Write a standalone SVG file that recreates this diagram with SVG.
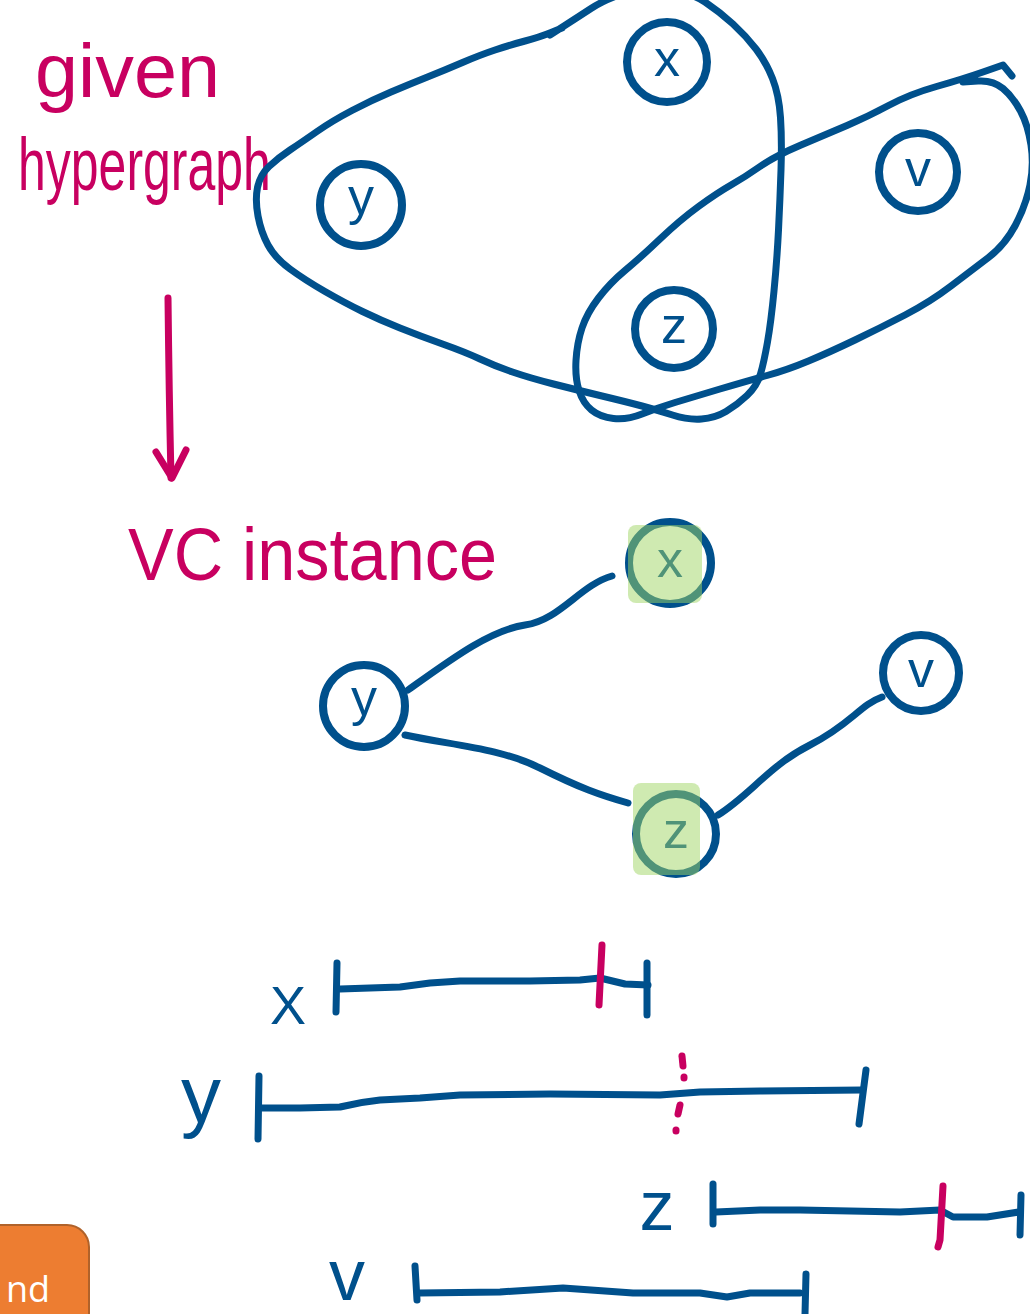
<svg xmlns="http://www.w3.org/2000/svg" width="1030" height="1314" viewBox="0 0 1030 1314">
<style>
.ink{fill:none;stroke:#00508c;stroke-width:7;stroke-linecap:round;stroke-linejoin:round}
.node{fill:#ffffff;stroke:#00508c;stroke-width:8}
.pink{fill:none;stroke:#c80060;stroke-width:7;stroke-linecap:round;stroke-linejoin:round}
.lbl{font-family:"Liberation Sans",Arial,sans-serif;fill:#00508c;text-anchor:middle}
.hand{font-family:"Liberation Sans",Arial,sans-serif;fill:#c80060}
.hl{fill:#a0d563;opacity:0.5}
</style>
<rect width="1030" height="1314" fill="#ffffff"/>

<!-- annotations -->
<text class="hand" x="35" y="97" font-size="76" textLength="185" lengthAdjust="spacingAndGlyphs">given</text>
<text class="hand" transform="translate(18,190) scale(1,1.5)" x="0" y="0" font-size="50">hypergraph</text>
<text class="hand" x="128" y="580" font-size="74" textLength="369" lengthAdjust="spacingAndGlyphs">VC instance</text>

<g id="hyperedges">
<path class="ink" d="M550,35 L564,26 Q578,17 591,8.5 Q604,0 622,-6 Q640,-12 665,-10 Q690,-8 705,2 Q720,12 733,24 Q746,36 756,49 Q766,62 772.5,78.5 Q779,95 780.5,117.5 Q782,140 781,170 Q780,200 778.5,230 Q777,260 774,291 Q771,322 767.5,342 Q764,362 760.5,374 Q757,386 747,395.5 Q737,405 726,411.5 Q715,418 701.5,419 Q688,420 672.5,415 Q657,410 642,406 Q627,402 602,396 Q577,390 553.5,384 Q530,378 512.5,372 Q495,366 480,359 Q465,352 442.5,344 Q420,336 400,328 Q380,320 362.5,311.5 Q345,303 325,291.5 Q305,280 290,269 Q275,258 268,245 Q261,232 258,216 Q255,200 257.5,187.5 Q260,175 269,166.5 Q278,158 290,150 Q302,142 317,131.5 Q332,121 352,110.5 Q372,100 391,92 Q410,84 427.5,77 Q445,70 462.5,62.5 Q480,55 495,50 Q510,45 525,41 Q540,37 551,32.5 L562,28"/>
<path class="ink" d="M963,82 L978,81 Q993,80 1003,88.5 Q1013,97 1020.5,111 Q1028,125 1031,145 Q1034,165 1030,185 Q1026,205 1015.5,225 Q1005,245 988.5,257.5 Q972,270 951,286 Q930,302 905,315 Q880,328 855,340 Q830,352 808.5,361 Q787,370 767,375.5 Q747,381 720,389 Q693,397 675,402.5 Q657,408 642,414 Q627,420 613.5,418.5 Q600,417 591.5,410 Q583,403 579,390.5 Q575,378 576,360.5 Q577,343 582,328 Q587,313 598.5,298 Q610,283 625,270.5 Q640,258 660,239 Q680,220 698.5,206.5 Q717,193 731,185 Q745,177 760,166.5 Q775,156 801,145 Q827,134 847,125.5 Q867,117 888.5,105.5 Q910,94 936.5,86.5 Q963,79 983,72 L1003,65 L1012,76"/>
</g>

<!-- arrow -->
<g id="arrow">
<path class="pink" d="M168,298 Q169,390 171,478"/>
<path class="pink" d="M156,452 L172,478 L186,450"/>
</g>

<!-- top hypergraph nodes -->
<g id="hx"><circle class="node" cx="667" cy="62" r="40"/><text class="lbl" x="667" y="76" font-size="52">x</text></g>
<g id="hy"><circle class="node" cx="361" cy="205" r="41"/><text class="lbl" x="361" y="214" font-size="52">y</text></g>
<g id="hz"><circle class="node" cx="674" cy="329" r="39"/><text class="lbl" x="674" y="343" font-size="52">z</text></g>
<g id="hv"><circle class="node" cx="918" cy="172" r="39"/><text class="lbl" x="918" y="186" font-size="52">v</text></g>

<!-- VC instance graph -->
<g id="connectors">
<path class="ink" d="M408,690 C450,660 490,630 525,625 S580,585 612,576"/>
<path class="ink" d="M405,735 C450,745 500,748 540,768 S600,795 628,803"/>
<path class="ink" d="M718,815 C750,795 770,765 810,745 S860,705 882,697"/>
</g>
<g id="gx"><circle class="node" cx="670" cy="563" r="41"/><text class="lbl" x="670" y="577" font-size="52">x</text><rect class="hl" x="628" y="525" width="74" height="78" rx="8"/></g>
<g id="gy"><circle class="node" cx="364" cy="706" r="41"/><text class="lbl" x="364" y="715" font-size="52">y</text></g>
<g id="gz"><circle class="node" cx="676" cy="834" r="40"/><text class="lbl" x="676" y="848" font-size="52">z</text><rect class="hl" x="633" y="783" width="67" height="92" rx="8"/></g>
<g id="gv"><circle class="node" cx="921" cy="673" r="38"/><text class="lbl" x="921" y="687" font-size="52">v</text></g>

<!-- intervals -->
<g id="int-x">
<text class="lbl" x="288" y="1024" font-size="54">X</text>
<path class="ink" d="M337,963 L336,1012"/>
<path class="ink" d="M340,989 L400,987 L430,983 L460,981 L530,981 L580,980 L600,978 L625,984 L648,985"/>
<path class="ink" d="M647,963 L647,1015"/>
<path class="pink" d="M602,945 L599,1005"/>
</g>
<g id="int-y">
<text class="lbl" x="201" y="1122" font-size="80">y</text>
<path class="ink" d="M259,1076 L258,1139"/>
<path class="ink" d="M262,1108 L300,1108 L340,1107 Q360,1102 380,1100 L420,1098 L460,1095 L550,1094 L660,1095 L700,1092 L760,1091 L862,1090"/>
<path class="ink" d="M866,1070 L859,1124"/>
<path class="pink" d="M682,1056 L683,1066"/>
<path class="pink" d="M684,1077 L684,1078"/>
<path class="pink" d="M680,1105 L678,1114"/>
<path class="pink" d="M676,1130 L676,1131"/>
</g>
<g id="int-z">
<text class="lbl" x="657" y="1230" font-size="70">z</text>
<path class="ink" d="M713,1184 L713,1224"/>
<path class="ink" d="M716,1212 L760,1210 L800,1210 L900,1212 L940,1210 L953,1217 L987,1217 L1019,1212"/>
<path class="ink" d="M1021,1195 L1020,1235"/>
<path class="pink" d="M943,1186 L940,1240 L938,1247"/>
</g>
<g id="int-v">
<text class="lbl" x="347" y="1300" font-size="72">v</text>
<path class="ink" d="M415,1266 L417,1300"/>
<path class="ink" d="M420,1293 L500,1292 L563,1288 L633,1293 L700,1293 L727,1297 L750,1293 L800,1293"/>
<path class="ink" d="M806,1274 L805,1314"/>
</g>

<!-- orange button -->
<g id="button">
<rect x="-20" y="1225" width="109" height="120" rx="22" fill="#ed7d31" stroke="#b0622a" stroke-width="2"/>
<text x="6" y="1302" font-family="'Open Sans',Arial,sans-serif" font-size="36" fill="#ffffff">nd</text>
</g>
</svg>
